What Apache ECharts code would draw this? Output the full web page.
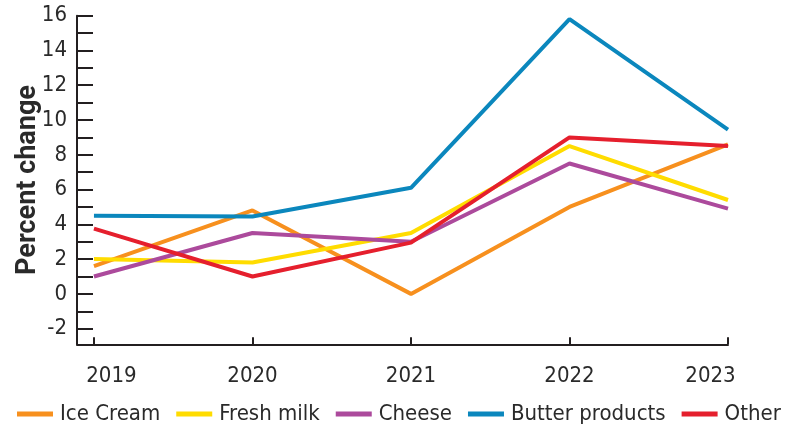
<!DOCTYPE html>
<html>
<head>
<meta charset="utf-8">
<script src="https://cdn.jsdelivr.net/npm/echarts@6/dist/echarts.min.js"></script>
<style>
html,body{margin:0;padding:0;background:#fff;}
#chart{width:786px;height:424px;}
</style>
</head>
<body>
<div id="chart"></div>
<script>
const years = [2019, 2020, 2021, 2022, 2023];
const iceCream = [1.6, 4.8, 0.0, 5.0, 8.6];
const freshMilk = [2.0, 1.8, 3.5, 8.5, 5.4];
const cheese = [1.0, 3.5, 3.0, 7.5, 4.9];
const butterProducts = [4.5, 4.45, 6.1, 15.8, 9.45];
const other = [3.75, 1.0, 2.95, 9.0, 8.5];
const yTickValues = [-2,-1,0,1,2,3,4,5,6,7,8,9,10,11,12,13,14,15,16];
const yLabelValues = [-2,0,2,4,6,8,10,12,14,16];

const seriesDefs = [
  {name: 'Ice Cream', data: iceCream, color: '#f7901e'},
  {name: 'Fresh milk', data: freshMilk, color: '#ffdc00'},
  {name: 'Cheese', data: cheese, color: '#ac4a9c'},
  {name: 'Butter products', data: butterProducts, color: '#0b87bd'},
  {name: 'Other', data: other, color: '#e51f2d'}
];

const font = '"DejaVu Sans Condensed", "Roboto Condensed", sans-serif';
const textColor = '#2a2a2a';
const axisColor = '#231f20';
const labelStyle = {fontFamily: font, fontSize: 22, color: textColor};

const chart = echarts.init(document.getElementById('chart'), null, {renderer: 'canvas'});
chart.setOption({
  animation: false,
  backgroundColor: '#ffffff',
  grid: {left: 77, right: 58, top: 15.7, bottom: 79.7, containLabel: false, outerBoundsMode: 'none'},
  legend: {
    left: 17, top: 403, width: 780, padding: 0,
    icon: 'rect', itemWidth: 36, itemHeight: 5, itemGap: 16,
    textStyle: {fontFamily: font, fontSize: 22, color: textColor, padding: [0, 0, 0, 2]},
    data: seriesDefs.map(s => s.name)
  },
  xAxis: {
    type: 'value',
    min: 2018.893, max: 2023,
    splitLine: {show: false},
    axisLine: {show: true, onZero: false, lineStyle: {color: axisColor, width: 2}},
    axisTick: {show: true, inside: true, length: 7, customValues: years, lineStyle: {color: axisColor, width: 2}},
    axisLabel: {
      customValues: years, margin: 21,
      fontFamily: font, fontSize: 22, color: textColor,
      formatter: v => v === years[0] ? '{l|' + v + '}' : (v === years[years.length - 1] ? '{r|' + v + '}' : String(v)),
      rich: {
        l: Object.assign({padding: [0, 0, 0, 35]}, labelStyle),
        r: Object.assign({padding: [0, 35, 0, 0]}, labelStyle)
      }
    }
  },
  yAxis: {
    type: 'value',
    min: -2.9, max: 16,
    name: 'Percent change',
    nameLocation: 'middle',
    nameGap: 35,
    nameMoveOverlap: false,
    nameTextStyle: {fontFamily: '"Roboto", sans-serif', fontWeight: 'bold', fontSize: 27, color: textColor},
    splitLine: {show: false},
    axisLine: {show: true, onZero: false, lineStyle: {color: axisColor, width: 2}},
    axisTick: {show: true, inside: true, length: 16, customValues: yTickValues, lineStyle: {color: axisColor, width: 2}},
    axisLabel: {customValues: yLabelValues, margin: 10, fontFamily: font, fontSize: 22, color: textColor}
  },
  series: seriesDefs.map(s => ({
    name: s.name,
    type: 'line',
    data: years.map((y, i) => [y, s.data[i]]),
    showSymbol: false,
    symbol: 'none',
    lineStyle: {width: 4, color: s.color},
    itemStyle: {color: s.color}
  }))
});
</script>
</body>
</html>
